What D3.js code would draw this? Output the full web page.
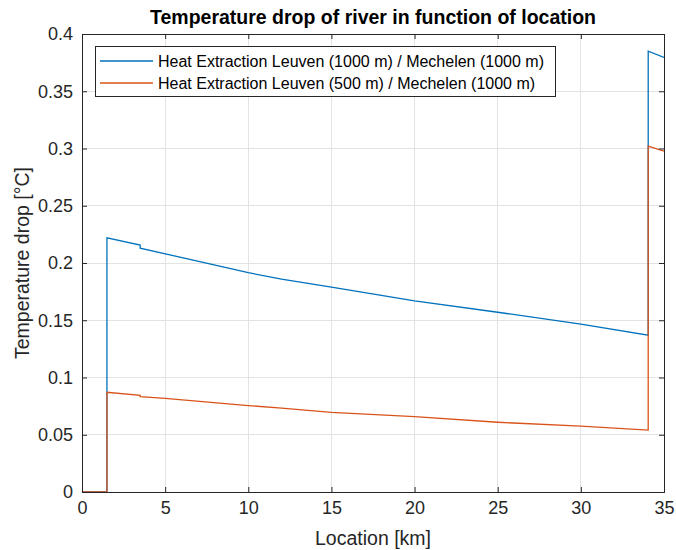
<!DOCTYPE html>
<html>
<head>
<meta charset="utf-8">
<script src="https://cdn.jsdelivr.net/npm/d3@7"></script>
<style>
  body { margin: 0; background: #fff; }
  svg { display: block; font-family: "Liberation Sans", Arial, Helvetica, sans-serif; }
</style>
</head>
<body>
<svg id="chart" width="676" height="550"></svg>
<script>
// Location along the river [km] and temperature drop [°C] for each scenario
const locLeuven1000 = [0, 1.5, 1.5, 3.5, 3.5, 10, 12, 15, 20, 25, 30, 34.05, 34.05, 35];
const dropLeuven1000 = [0, 0, 0.222, 0.2157, 0.213, 0.1915, 0.186, 0.179, 0.167, 0.157, 0.1467, 0.137, 0.385, 0.3795];

const locLeuven500 = [0, 1.5, 1.5, 3.5, 3.5, 5, 10, 12, 15, 20, 25, 30, 34.05, 34.05, 35];
const dropLeuven500 = [0, 0, 0.0871, 0.0845, 0.0833, 0.0818, 0.0755, 0.0733, 0.0696, 0.0658, 0.0609, 0.0575, 0.054, 0.302, 0.2976];

const seriesNames = [
  "Heat Extraction Leuven (1000 m) / Mechelen (1000 m)",
  "Heat Extraction Leuven (500 m) / Mechelen (1000 m)"
];
const seriesColors = ["#0072BD", "#D95319"];

const xTicks = [0, 5, 10, 15, 20, 25, 30, 35];
const yTicks = [0, 0.05, 0.1, 0.15, 0.2, 0.25, 0.3, 0.35, 0.4];

const titleText = "Temperature drop of river in function of location";
const xLabelText = "Location [km]";
const yLabelText = "Temperature drop [°C]";

const W = 676, H = 550;
const margin = { top: 34, right: 12, bottom: 58, left: 82 };
const iw = W - margin.left - margin.right;
const ih = H - margin.top - margin.bottom;

const svg = d3.select("#chart");
const g = svg.append("g").attr("transform", `translate(${margin.left},${margin.top})`);

const x = d3.scaleLinear().domain([0, 35]).range([0, iw]);
const y = d3.scaleLinear().domain([0, 0.4]).range([ih, 0]);

const axisColor = "#262626";
const gridColor = "#e3e3e3";

// grid
g.append("g").selectAll("line.vx").data(xTicks).join("line")
  .attr("x1", d => x(d)).attr("x2", d => x(d))
  .attr("y1", 0).attr("y2", ih)
  .attr("stroke", gridColor).attr("stroke-width", 1).attr("shape-rendering", "crispEdges");
g.append("g").selectAll("line.hy").data(yTicks).join("line")
  .attr("x1", 0).attr("x2", iw)
  .attr("y1", d => y(d)).attr("y2", d => y(d))
  .attr("stroke", gridColor).attr("stroke-width", 1).attr("shape-rendering", "crispEdges");

// data lines
g.append("clipPath").attr("id", "plotclip")
  .append("rect").attr("x", 0).attr("y", 0).attr("width", iw).attr("height", ih);

const line = d3.line().x(d => x(d[0])).y(d => y(d[1]));
const series = [
  d3.zip(locLeuven1000, dropLeuven1000),
  d3.zip(locLeuven500, dropLeuven500)
];
g.append("g").attr("clip-path", "url(#plotclip)")
  .selectAll("path").data(series).join("path")
  .attr("d", line)
  .attr("fill", "none")
  .attr("stroke", (d, i) => seriesColors[i])
  .attr("stroke-width", 1.3)
  .attr("stroke-linejoin", "miter");

// axes (ticks point inward, box on)
const tickLen = 5;
const fontTick = 18;
const bottomAxis = g.append("g").attr("transform", `translate(0,${ih})`)
  .call(d3.axisBottom(x).tickValues(xTicks).tickSize(-tickLen).tickPadding(9).tickFormat(d3.format("d")));
const topAxis = g.append("g")
  .call(d3.axisTop(x).tickValues(xTicks).tickSize(-tickLen).tickFormat(""));
const leftAxis = g.append("g")
  .call(d3.axisLeft(y).tickValues(yTicks).tickSize(-tickLen).tickPadding(9).tickFormat(d => d3.format("")(+d.toFixed(2))));
const rightAxis = g.append("g").attr("transform", `translate(${iw},0)`)
  .call(d3.axisRight(y).tickValues(yTicks).tickSize(-tickLen).tickFormat(""));

[bottomAxis, topAxis, leftAxis, rightAxis].forEach(a => {
  a.select(".domain").attr("stroke", axisColor).attr("stroke-width", 1);
  a.selectAll(".tick line").attr("stroke", axisColor);
  a.selectAll(".tick text").attr("fill", axisColor)
    .attr("font-size", fontTick)
    .attr("font-family", "'Liberation Sans', Arial, sans-serif");
});

// axis labels and title
svg.append("text")
  .attr("x", margin.left + iw / 2).attr("y", 545)
  .attr("text-anchor", "middle").attr("font-size", 19.5).attr("fill", axisColor)
  .text(xLabelText);

svg.append("text")
  .attr("transform", `translate(29,${margin.top + ih / 2}) rotate(-90)`)
  .attr("text-anchor", "middle").attr("font-size", 19.5).attr("fill", axisColor)
  .text(yLabelText);

svg.append("text")
  .attr("x", margin.left + iw / 2).attr("y", 24)
  .attr("text-anchor", "middle").attr("font-size", 19.5).attr("font-weight", "bold").attr("fill", "#000")
  .text(titleText);

// legend
const legend = svg.append("g").attr("transform", "translate(95,46)");
legend.append("rect")
  .attr("x", 0).attr("y", 0).attr("width", 460).attr("height", 50)
  .attr("fill", "#fff").attr("stroke", axisColor).attr("stroke-width", 1).attr("shape-rendering", "crispEdges");
const items = legend.selectAll("g.item").data(seriesNames).join("g")
  .attr("transform", (d, i) => `translate(0,${15 + i * 22})`);
items.append("line")
  .attr("x1", 5).attr("x2", 58).attr("y1", 0).attr("y2", 0)
  .attr("stroke", (d, i) => seriesColors[i]).attr("stroke-width", 1.3);
items.append("text")
  .attr("x", 63).attr("y", 0).attr("dy", "0.35em")
  .attr("font-size", 16).attr("fill", "#000")
  .text(d => d);
</script>
</body>
</html>
